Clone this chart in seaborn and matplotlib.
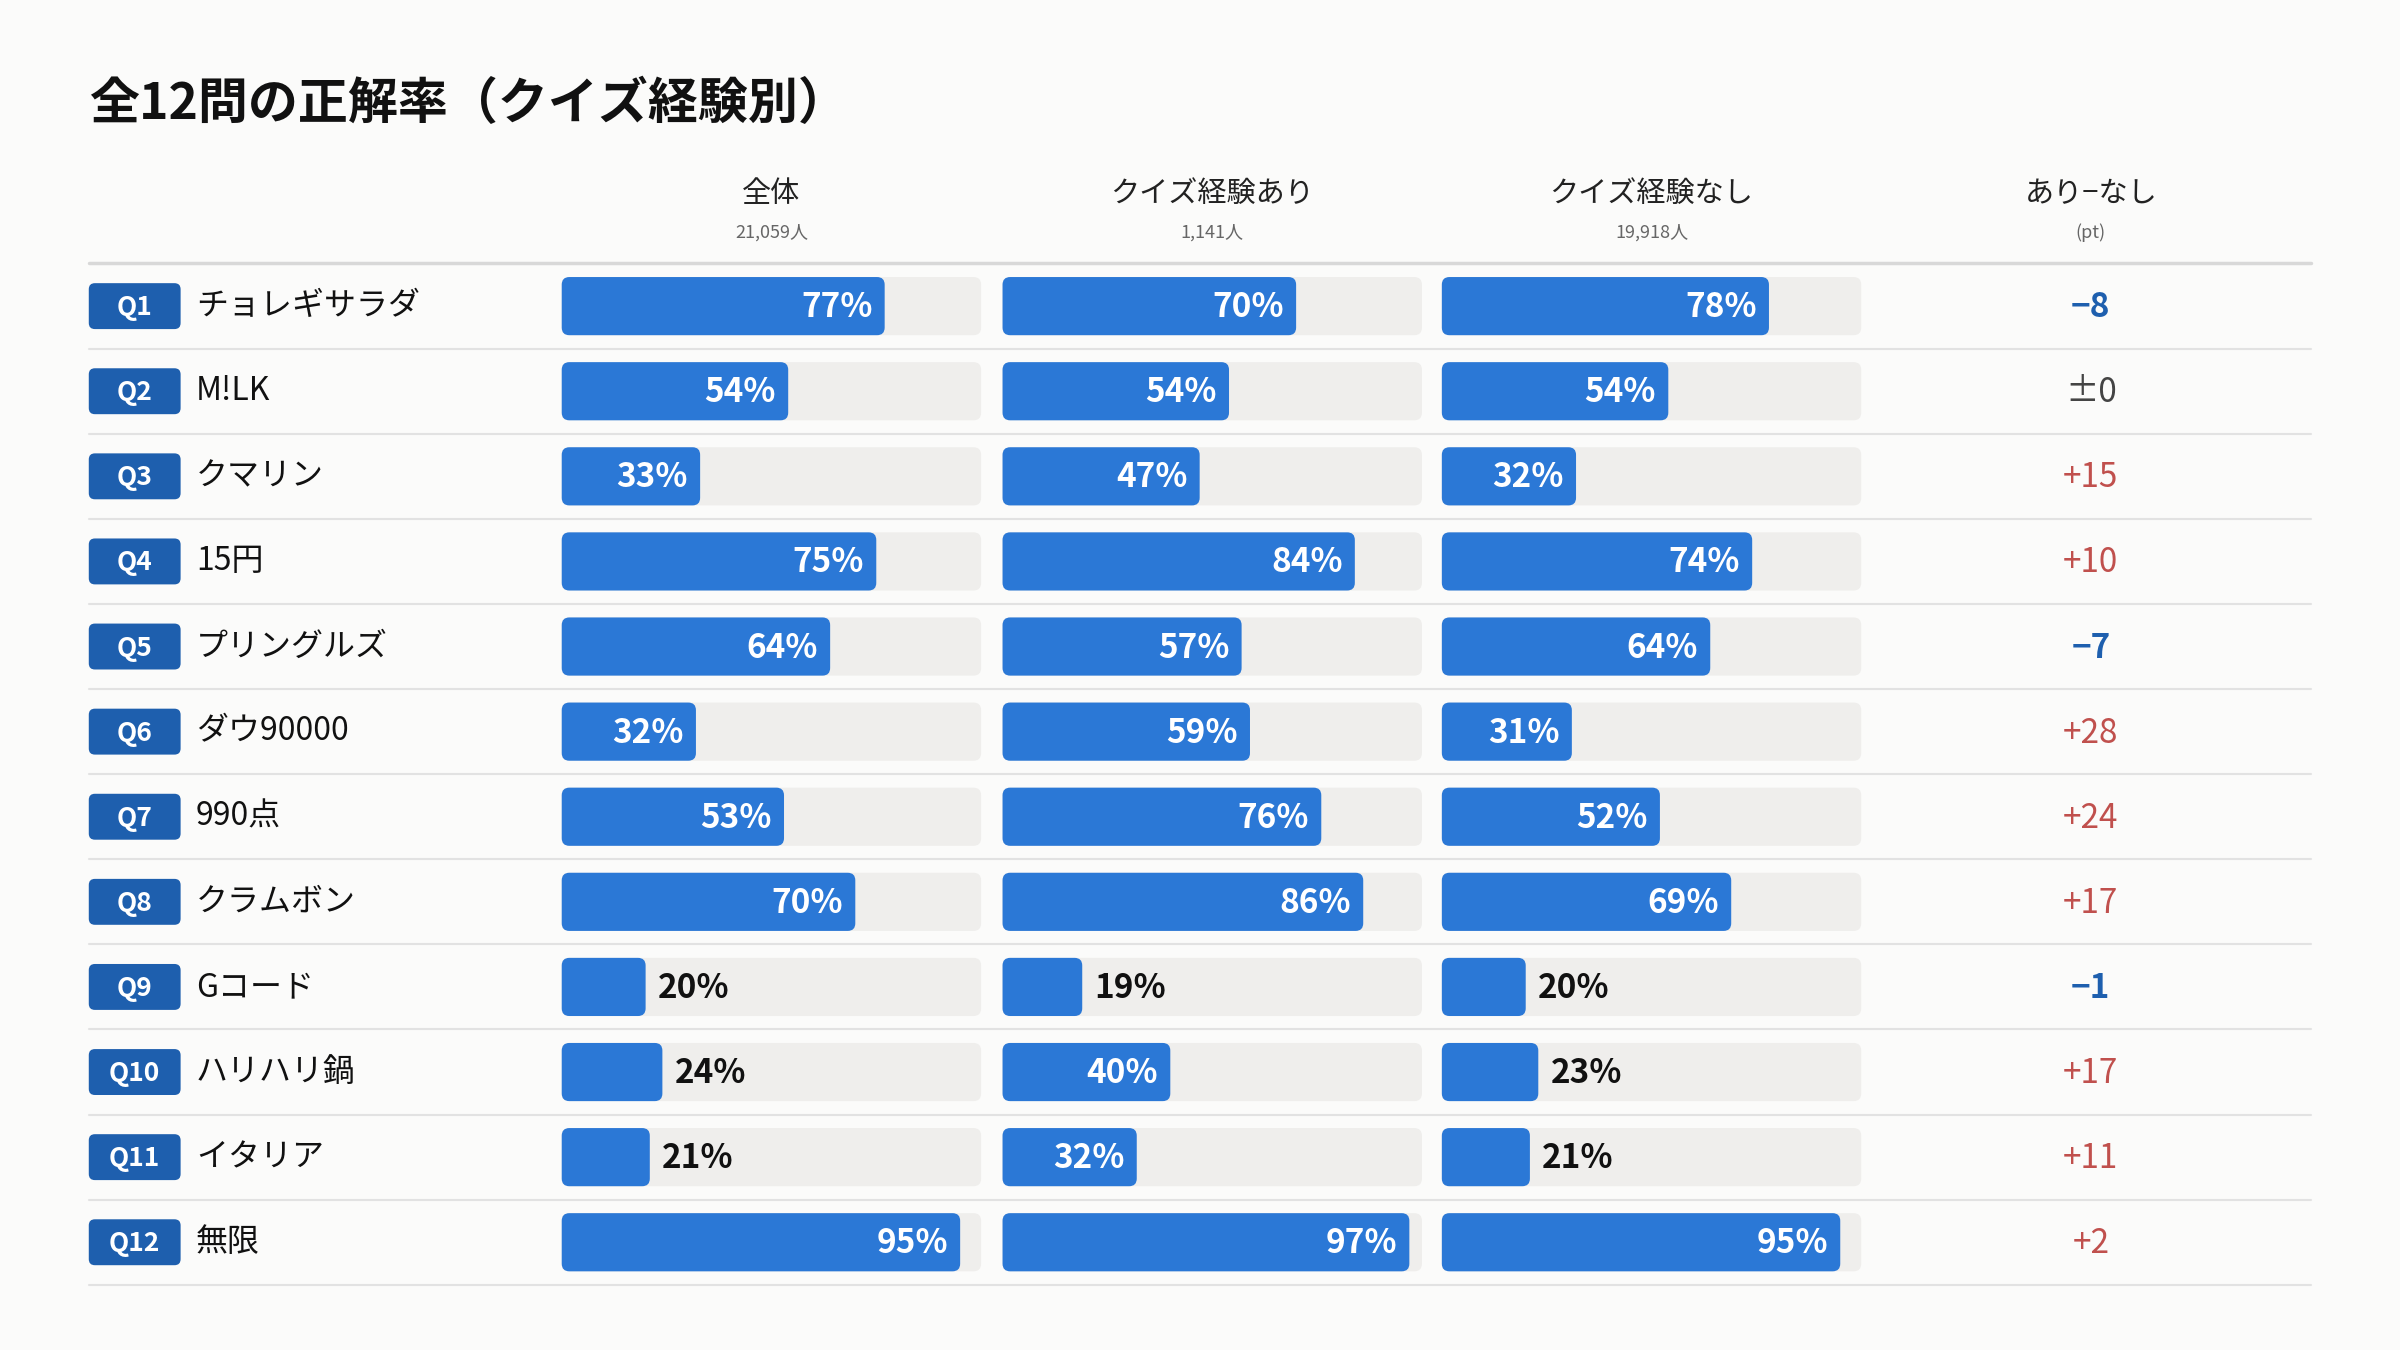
import numpy as np
import seaborn as sns
import matplotlib.pyplot as plt
from matplotlib.patches import FancyBboxPatch

sns.set_theme(style="white")
plt.rcParams['font.family'] = ['Noto Sans CJK JP', 'DejaVu Sans']

# data
qids = [f"Q{i}" for i in range(1, 13)]
answers = ["チョレギサラダ", "M!LK", "クマリン", "15円", "プリングルズ", "ダウ90000",
           "990点", "クラムボン", "Gコード", "ハリハリ鍋", "イタリア", "無限"]
overall = [77, 54, 33, 75, 64, 32, 53, 70, 20, 24, 21, 95]
with_exp = [70, 54, 47, 84, 57, 59, 76, 86, 19, 40, 32, 97]
without_exp = [78, 54, 32, 74, 64, 31, 52, 69, 20, 23, 21, 95]
headers = ["全体", "クイズ経験あり", "クイズ経験なし"]
subheads = ["21,059人", "1,141人", "19,918人"]

BG = "#fbfbfa"
BLUE = "#2b78d6"
DARK = "#1e5fae"
TRACK = "#efeeec"
RED = "#c0504d"

fig = plt.figure(figsize=(24, 13.5), dpi=100, facecolor=BG)
ax = fig.add_axes([0, 0, 1, 1])
ax.set_facecolor(BG)
ax.set_xlim(0, 1568)
ax.set_ylim(882, 0)
ax.axis("off")

ax.text(58, 68, "全12問の正解率（クイズ経験別）", fontsize=36, fontweight="bold",
        va="center", ha="left", color="#111")

col_left = [367, 655, 942]
col_w = 274
for x0, h, s in zip(col_left, headers, subheads):
    cx = x0 + col_w / 2
    ax.text(cx, 127, h, fontsize=21, ha="center", va="center", color="#222")
    ax.text(cx, 152, s, fontsize=13, ha="center", va="center", color="#666")
ax.text(1366, 127, "あり−なし", fontsize=21, ha="center", va="center", color="#222")
ax.text(1366, 152, "(pt)", fontsize=13, ha="center", va="center", color="#666")
ax.plot([58, 1510], [172, 172], color="#d8d8d8", lw=2.5)

row_h = 55.6
y_first = 200
bar_h = 38
for i in range(12):
    yc = y_first + i * row_h
    ax.plot([58, 1510], [yc + row_h / 2, yc + row_h / 2], color="#e2e2e2", lw=1.5)
    ax.add_patch(FancyBboxPatch((58, yc - 15), 60, 30, boxstyle="round,pad=0,rounding_size=4",
                                fc=DARK, ec="none"))
    ax.text(88, yc + 1, qids[i], fontsize=19, fontweight="bold", color="white",
            ha="center", va="center")
    ax.text(128, yc, answers[i], fontsize=23, color="#111", ha="left", va="center")
    for x0, vals in zip(col_left, [overall, with_exp, without_exp]):
        v = vals[i]
        ax.add_patch(FancyBboxPatch((x0, yc - bar_h / 2), col_w, bar_h,
                                    boxstyle="round,pad=0,rounding_size=5", fc=TRACK, ec="none"))
        w = col_w * v / 100
        ax.add_patch(FancyBboxPatch((x0, yc - bar_h / 2), w, bar_h,
                                    boxstyle="round,pad=0,rounding_size=5", fc=BLUE, ec="none"))
        if v >= 30:
            ax.text(x0 + w - 8, yc + 1, f"{v}%", fontsize=24, fontweight="bold", color="white",
                    ha="right", va="center")
        else:
            ax.text(x0 + w + 8, yc + 1, f"{v}%", fontsize=24, fontweight="bold", color="#111",
                    ha="left", va="center")
    d = with_exp[i] - without_exp[i]
    if d > 0:
        txt, c = f"+{d}", RED
    elif d < 0:
        txt, c = f"−{abs(d)}", DARK
    else:
        txt, c = "±0", "#444"
    ax.text(1366, yc + 1, txt, fontsize=24, fontweight="bold" if d < 0 else "normal",
            color=c, ha="center", va="center")

fig.savefig("out.png", dpi=100, facecolor=BG)
plt.close(fig)
